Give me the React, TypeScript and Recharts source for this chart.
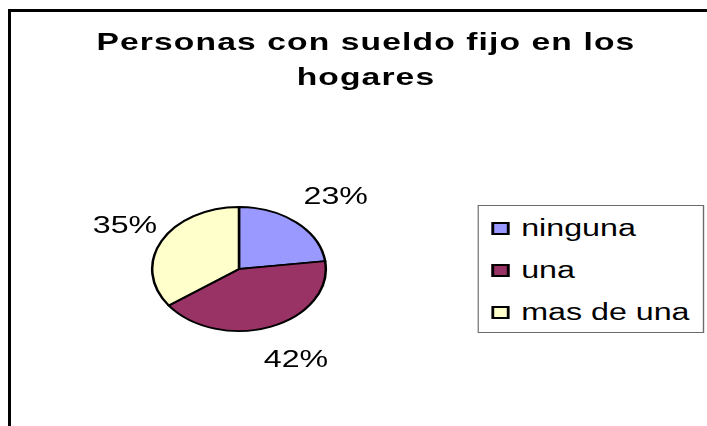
import { PieChart, Pie, Cell, Legend } from 'recharts';

// The source picture is an Excel chart stretched horizontally; we draw it
// unstretched and widen the whole thing with a CSS scaleX.
const STRETCH = 1.4;
const W = 707 / STRETCH;
const H = 426;

const categories = ['ninguna', 'una', 'mas de una'];
const shares = [23, 42, 35];
const colors = ['#9999FF', '#993366', '#FFFFCC'];

const data = categories.map((name, i) => ({ name, value: shares[i] }));

const FONT = '"Liberation Sans", Arial, sans-serif';
const RADIAN = Math.PI / 180;

function renderLabel({ cx, cy, midAngle, outerRadius, value }: any) {
  const r = outerRadius + 35;
  const x = cx + r * Math.cos(-midAngle * RADIAN) + 5;
  const y = cy + r * Math.sin(-midAngle * RADIAN);
  return (
    <text x={x} y={y} textAnchor="middle" dominantBaseline="central" fontSize={23} fontFamily={FONT} fill="#000">
      {`${value}%`}
    </text>
  );
}

// legend keeps the series order (recharts would sort it by name)
function LegendBox() {
  return (
    <div
      style={{
        boxSizing: 'border-box', width: 162, height: 128, border: '1px solid #6b6b6b',
        background: '#fff', paddingTop: 1, fontFamily: FONT,
      }}
    >
      {data.map((d, i) => (
        <div key={d.name} style={{ display: 'flex', alignItems: 'center', height: 42 }}>
          <span
            style={{
              boxSizing: 'border-box', width: 13, height: 13, marginLeft: 8.3,
              border: '2px solid #000', background: colors[i], flex: 'none',
            }}
          />
          <span style={{ marginLeft: 8.6, fontSize: 23, color: '#000', lineHeight: '42px' }}>{d.name}</span>
        </div>
      ))}
    </div>
  );
}

export default function App() {
  return (
    <div style={{ position: 'absolute', left: 0, top: 0, width: 707, height: 426, overflow: 'hidden', background: '#fff' }}>
      {/* chart frame, cut off at right and bottom */}
      <div style={{ position: 'absolute', left: 8, top: 9, width: 760, height: 480, border: '3px solid #000', boxSizing: 'border-box' }} />
      <div style={{ position: 'absolute', left: 0, top: 0, width: W, height: H, transform: `scaleX(${STRETCH})`, transformOrigin: '0 0' }}>
        <div
          style={{
            position: 'absolute', left: 0, top: 23.6, width: 522.8, textAlign: 'center',
            fontFamily: FONT, fontWeight: 'bold', fontSize: 24, lineHeight: '35px', letterSpacing: 0.8, color: '#000',
          }}
        >
          Personas con sueldo fijo en los
          <br />
          hogares
        </div>
        <PieChart
          width={W}
          height={H}
          margin={{ top: 0, right: 0, bottom: 0, left: 0 }}
          style={{ position: 'absolute', left: 0, top: 0 }}
        >
          <Pie
            data={data}
            dataKey="value"
            nameKey="name"
            cx={170.7}
            cy={269}
            outerRadius={62}
            startAngle={90}
            endAngle={-270}
            stroke="#000"
            strokeWidth={1.8}
            label={renderLabel}
            labelLine={false}
            isAnimationActive={false}
          >
            {data.map((d, i) => (
              <Cell key={d.name} fill={colors[i]} />
            ))}
          </Pie>
          <Legend
            layout="vertical"
            align="right"
            verticalAlign="top"
            content={<LegendBox />}
            wrapperStyle={{ position: 'absolute', left: 341.4, top: 205, width: 162, height: 128, right: 'auto', bottom: 'auto' }}
          />
        </PieChart>
      </div>
    </div>
  );
}
